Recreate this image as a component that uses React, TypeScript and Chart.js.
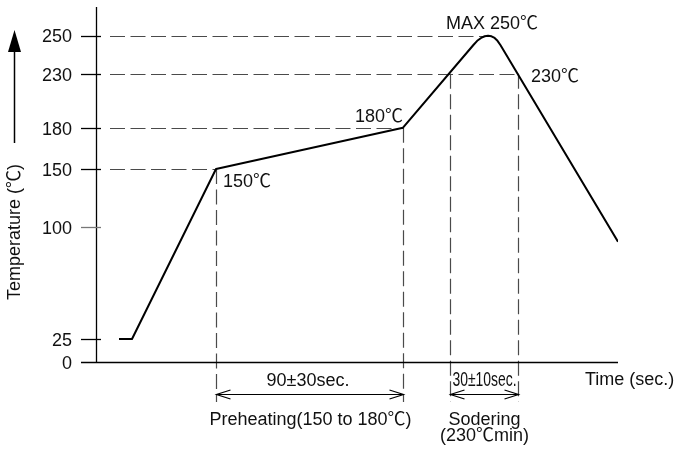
import React, { useEffect, useRef } from 'react';
import { Chart, registerables, LinearScale } from 'chart.js';

// ---- data ----
const yTicks = [0, 25, 100, 150, 180, 230, 250];
const profileTime = [11.5, 18, 60, 153.5, 188.7, 190.6, 192.55, 194.35, 196.05, 197.75, 199.3, 200.75, 202.2, 261];
const profileTemp = [25, 25, 150, 180, 245.1, 247.3, 248.8, 249.7, 250, 249.7, 248.8, 247.3, 245.1, 90];
const guideTemps = [150, 180, 230, 250];
const guideEndTimes = [60, 153.5, 211, 193.5];
const dropTimes = [60, 153.5, 177, 211];
const dropTemps = [150, 180, 230, 230];
const spanStart = [60, 177];
const spanEnd = [153.5, 211];
const spanLabels = ['90±30sec.', '30±10sec.'];
const pointLabels = ['150℃', '180℃', 'MAX 250℃', '230℃'];
const pointLabelTimes = [60, 153.5, 194.5, 211];
const pointLabelTemps = [150, 180, 250, 230];
const yTitle = 'Temperature (℃)';
const xTitle = 'Time (sec.)';
const phaseLabels = [['Preheating(150 to 180℃)'], ['Sodering', '(230℃min)']];

// ---- non-linear temperature axis (piecewise) ----
const Y_BREAK_VALUES = [0, 25, 100, 150, 180, 230, 250, 265];
const Y_BREAK_FRACS = [0, 0.0648, 0.3811, 0.5437, 0.66, 0.8121, 0.9192, 1];

function valueToFrac(v: number): number {
  const b = Y_BREAK_VALUES, f = Y_BREAK_FRACS;
  if (v <= b[0]) return f[0] + (v - b[0]) * (f[1] - f[0]) / (b[1] - b[0]);
  for (let i = 1; i < b.length; i++) {
    if (v <= b[i]) return f[i - 1] + (v - b[i - 1]) * (f[i] - f[i - 1]) / (b[i] - b[i - 1]);
  }
  const n = b.length - 1;
  return f[n] + (v - b[n]) * (f[n] - f[n - 1]) / (b[n] - b[n - 1]);
}
function fracToValue(d: number): number {
  const b = Y_BREAK_VALUES, f = Y_BREAK_FRACS;
  for (let i = 1; i < f.length; i++) {
    if (d <= f[i]) return b[i - 1] + (d - f[i - 1]) * (b[i] - b[i - 1]) / (f[i] - f[i - 1]);
  }
  return b[b.length - 1];
}

class PiecewiseScale extends LinearScale {
  static id = 'piecewise';
  static defaults = LinearScale.defaults;
  getPixelForValue(value: number) {
    return this.getPixelForDecimal(valueToFrac(value));
  }
  getValueForPixel(pixel: number) {
    return fracToValue(this.getDecimalForPixel(pixel));
  }
}

Chart.register(...registerables, PiecewiseScale);

const FONT = '"Liberation Sans", Arial, Helvetica, sans-serif';
const CJK = '"Noto Sans CJK JP", "Noto Sans CJK SC", sans-serif';

// draw text, rendering the ℃ sign with a CJK (full width) face
function drawText(ctx: CanvasRenderingContext2D, text: string, x: number, y: number, align: string, size = 18) {
  const parts = text.split(/(℃)/).filter((p) => p.length);
  const fontFor = (p: string) => (p === '℃' ? `${size}px ${CJK}` : `${size}px ${FONT}`);
  const widths = parts.map((p) => {
    ctx.font = fontFor(p);
    return ctx.measureText(p).width;
  });
  const total = widths.reduce((a, b) => a + b, 0);
  let cx = align === 'center' ? x - total / 2 : align === 'right' ? x - total : x;
  const prevAlign = ctx.textAlign;
  ctx.textAlign = 'left';
  parts.forEach((p, i) => {
    ctx.font = fontFor(p);
    ctx.fillText(p, cx, y);
    cx += widths[i];
  });
  ctx.textAlign = prevAlign;
}

const drawPlugin = {
  id: 'profileDecor',
  beforeDatasetsDraw(chart: any) {
    const ctx = chart.ctx as CanvasRenderingContext2D;
    const xs = chart.scales.x, ys = chart.scales.y;
    const X = (t: number) => xs.getPixelForValue(t);
    const Y = (v: number) => ys.getPixelForValue(v);
    const { left, right, top, bottom } = chart.chartArea;
    ctx.save();
    // dashed guides
    ctx.strokeStyle = '#4a4a4a';
    ctx.lineWidth = 1.2;
    ctx.setLineDash([15, 5.5]);
    guideTemps.forEach((v, i) => {
      const y = Math.round(Y(v)) + 0.5;
      ctx.beginPath();
      ctx.moveTo(left + 14, y);
      ctx.lineTo(X(guideEndTimes[i]), y);
      ctx.stroke();
    });
    dropTimes.forEach((t, i) => {
      const x = Math.round(X(t)) + 0.5;
      ctx.beginPath();
      ctx.moveTo(x, Y(dropTemps[i]));
      ctx.lineTo(x, bottom + 40);
      ctx.stroke();
    });
    ctx.setLineDash([]);
    // axes
    ctx.strokeStyle = '#000';
    ctx.lineWidth = 1.3;
    ctx.beginPath();
    ctx.moveTo(left + 0.5, top);
    ctx.lineTo(left + 0.5, bottom);
    ctx.moveTo(left - 15, bottom + 0.5);
    ctx.lineTo(right, bottom + 0.5);
    ctx.stroke();
    // ticks + labels
    ctx.font = `18px ${FONT}`;
    ctx.fillStyle = '#111';
    ctx.textAlign = 'right';
    ctx.textBaseline = 'alphabetic';
    yTicks.forEach((v) => {
      const y = Math.round(Y(v)) + 0.5;
      if (v !== 0) {
        ctx.strokeStyle = v === 100 ? '#777' : '#000';
        ctx.beginPath();
        ctx.moveTo(left - 15, y);
        ctx.lineTo(left + 5, y);
        ctx.stroke();
      }
      ctx.fillText(String(v), left - 24, Y(v) + 6.8);
    });
    ctx.restore();
  },
  afterDraw(chart: any) {
    const ctx = chart.ctx as CanvasRenderingContext2D;
    const xs = chart.scales.x, ys = chart.scales.y;
    const X = (t: number) => xs.getPixelForValue(t);
    const Y = (v: number) => ys.getPixelForValue(v);
    const { right, bottom } = chart.chartArea;
    ctx.save();
    ctx.fillStyle = '#111';
    ctx.strokeStyle = '#000';
    ctx.font = `18px ${FONT}`;
    ctx.textBaseline = 'alphabetic';

    // point labels
    const offs = [
      { dx: 7, dy: 18, align: 'left' },
      { dx: 0, dy: -6, align: 'right' },
      { dx: -39, dy: -7, align: 'left' },
      { dx: 13, dy: 8, align: 'left' },
    ];
    pointLabels.forEach((s, i) => {
      drawText(ctx, s, X(pointLabelTimes[i]) + offs[i].dx, Y(pointLabelTemps[i]) + offs[i].dy, offs[i].align);
    });

    // span arrows
    const ay = bottom + 32.5;
    ctx.lineWidth = 1.2;
    spanStart.forEach((t0, i) => {
      const x0 = Math.round(X(t0)) + 0.5, x1 = Math.round(X(spanEnd[i])) + 0.5;
      ctx.beginPath();
      ctx.moveTo(x0, ay); ctx.lineTo(x1, ay);
      ctx.moveTo(x0 + 14, ay - 4.5); ctx.lineTo(x0, ay); ctx.lineTo(x0 + 14, ay + 4.5);
      ctx.moveTo(x1 - 14, ay - 4.5); ctx.lineTo(x1, ay); ctx.lineTo(x1 - 14, ay + 4.5);
      ctx.stroke();
      const cx = (x0 + x1) / 2;
      ctx.textAlign = 'center';
      if (i === 1) {
        ctx.save();
        ctx.translate(cx, bottom + 23.5);
        ctx.scale(0.68, 1);
        ctx.font = `20.5px ${FONT}`;
        ctx.fillText(spanLabels[i], 0, 0);
        ctx.restore();
      } else {
        ctx.font = `18px ${FONT}`;
        ctx.fillText(spanLabels[i], cx - 2, bottom + 24);
      }
      // phase captions
      const lines = phaseLabels[i];
      lines.forEach((ln, k) => {
        drawText(ctx, ln, cx + (i === 0 ? 0.5 : 0), bottom + 63 + k * 16, 'center');
      });
    });

    // x title
    ctx.font = `18px ${FONT}`;
    ctx.textAlign = 'left';
    ctx.fillText(xTitle, right - 33, bottom + 23);

    // y title + arrow
    ctx.save();
    ctx.translate(19.5, 232);
    ctx.rotate(-Math.PI / 2);
    drawText(ctx, yTitle, 0, 0, 'center');
    ctx.restore();
    ctx.lineWidth = 1.5;
    ctx.beginPath();
    ctx.moveTo(14.5, 143);
    ctx.lineTo(14.5, 48);
    ctx.stroke();
    ctx.fillStyle = '#000';
    ctx.beginPath();
    ctx.moveTo(14.5, 30);
    ctx.lineTo(8, 52);
    ctx.lineTo(21, 52);
    ctx.closePath();
    ctx.fill();
    ctx.restore();
  },
};

export default function App() {
  const ref = useRef<HTMLCanvasElement | null>(null);
  useEffect(() => {
    if (!ref.current) return;
    const chart = new Chart(ref.current, {
      type: 'line',
      data: {
        datasets: [
          {
            data: profileTime.map((t, i) => ({ x: t, y: profileTemp[i] })),
            borderColor: '#000',
            borderWidth: 2,
            pointRadius: 0,
            tension: 0,
            fill: false,
            borderJoinStyle: 'round',
          },
        ],
      },
      options: {
        animation: false,
        responsive: false,
        events: [],
        layout: { padding: { left: 96, top: 7, right: 59, bottom: 89 } },
        scales: {
          x: { type: 'linear', min: 0, max: 261, display: false },
          y: { type: 'piecewise', min: 0, max: 265, display: false } as any,
        },
        plugins: { legend: { display: false }, tooltip: { enabled: false } },
      } as any,
      plugins: [drawPlugin],
    });
    return () => chart.destroy();
  }, []);
  return (
    <div style={{ position: 'absolute', left: 0, top: 0, width: 677, height: 451, background: '#fff' }}>
      <canvas ref={ref} width={677} height={451} style={{ display: 'block' }} />
    </div>
  );
}
